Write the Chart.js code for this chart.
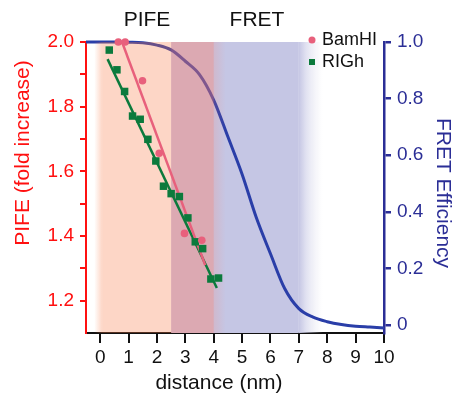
<!DOCTYPE html>
<html>
<head>
<meta charset="utf-8">
<script src="https://cdn.jsdelivr.net/npm/chart.js@4.4.1/dist/chart.umd.min.js"></script>
<style>
  html, body { margin: 0; padding: 0; background: #fff; }
  #wrap { width: 455px; height: 394px; position: relative; }
</style>
</head>
<body>
<div id="wrap"><canvas id="pifeChart"></canvas></div>
<script>
// distance axis ticks (nm)
const distanceTicks = [0, 1, 2, 3, 4, 5, 6, 7, 8, 9, 10];
// left axis ticks, only the even ones get a label
const pifeTicks = [1.2, 1.3, 1.4, 1.5, 1.6, 1.7, 1.8, 1.9, 2.0];
const pifeLabelled = [1.2, 1.4, 1.6, 1.8, 2.0];
const fretTicks = [0, 0.2, 0.4, 0.6, 0.8, 1.0];

// BamHI PIFE measurements
const bamhiDistance = [0.64, 0.88, 1.49, 2.08, 2.97, 3.58];
const bamhiPife = [2.0, 2.0, 1.88, 1.656, 1.408, 1.387];

// RIGh PIFE measurements
const righDistance = [0.32, 0.59, 0.86, 1.14, 1.41, 1.68, 1.96, 2.23, 2.50, 2.79, 3.09, 3.35, 3.61, 3.90, 4.17];
const righPife = [1.975, 1.914, 1.847, 1.771, 1.761, 1.699, 1.632, 1.554, 1.531, 1.522, 1.456, 1.382, 1.361, 1.267, 1.270];

// linear fits (end points)
const bamhiFitDistance = [0.77, 3.7];
const bamhiFitPife = [2.0, 1.31];
const righFitDistance = [0.26, 4.11];
const righFitPife = [1.947, 1.239];

// FRET efficiency curve
const fretDistance = [-0.5, 0, 0.5, 1, 1.5, 2, 2.5, 3, 3.5, 4, 4.5, 5, 5.5, 6, 6.5, 7, 7.5, 8, 8.5, 9, 9.5, 10];
const fretEfficiency = [1.0, 1.0, 1.0, 0.999, 0.997, 0.989, 0.972, 0.932, 0.885, 0.795, 0.665, 0.533, 0.38, 0.252, 0.129, 0.058, 0.028, 0.012, 0.002, -0.004, -0.007, -0.01];

// shaded ranges (nm)
const pifeRange = [0, 4];
const fretRange = [2.5, 7];

const FONT = '"Liberation Sans", Arial, Helvetica, sans-serif';
const RED = '#ff1010';
const NAVY = '#2b2e96';
const PINK = '#e8607c';
const GREEN = '#0b7a3c';
const CURVE = '#2a3ea8';

const toPoints = (xs, ys) => xs.map((x, i) => ({ x: x, y: ys[i] }));

const shading = {
    id: 'shading',
    beforeDatasetsDraw(chart) {
        const { ctx, chartArea: a, scales: { x } } = chart;
        const x0 = x.getPixelForValue(fretRange[0]);
        const x1 = x.getPixelForValue(fretRange[1]);
        ctx.save();
        const g = ctx.createLinearGradient(x1, 0, x1 + 24, 0);
        g.addColorStop(0, 'rgb(197,198,228)');
        g.addColorStop(0.35, 'rgba(210,211,234,0.6)');
        g.addColorStop(1, 'rgba(230,230,240,0)');
        ctx.fillStyle = 'rgb(197,198,228)';
        ctx.fillRect(x0, a.top, x1 - x0, a.bottom - a.top);
        ctx.fillStyle = g;
        ctx.fillRect(x1, a.top, 24, a.bottom - a.top);
        ctx.restore();
    },
    afterDatasetDraw(chart, args) {
        if (args.index !== 4) return;
        const { ctx, chartArea: a, scales: { x } } = chart;
        const p0 = x.getPixelForValue(pifeRange[0]);
        const p1 = x.getPixelForValue(pifeRange[1]);
        const f0 = x.getPixelForValue(fretRange[0]);
        ctx.save();
        // PIFE only part
        const lg = ctx.createLinearGradient(p0 - 6, 0, p0 + 2, 0);
        lg.addColorStop(0, 'rgba(248,118,65,0)');
        lg.addColorStop(1, 'rgba(248,118,65,0.3)');
        ctx.fillStyle = lg;
        ctx.fillRect(p0 - 6, a.top, 8, a.bottom - a.top);
        ctx.fillStyle = 'rgba(248,118,65,0.3)';
        ctx.fillRect(p0 + 2, a.top, f0 - p0 - 2, a.bottom - a.top);
        // overlap with FRET
        ctx.fillStyle = 'rgba(254,126,103,0.4)';
        ctx.fillRect(f0, a.top, p1 - f0, a.bottom - a.top);
        const rg = ctx.createLinearGradient(p1, 0, p1 + 12, 0);
        rg.addColorStop(0, 'rgba(254,126,103,0.18)');
        rg.addColorStop(1, 'rgba(254,126,103,0)');
        ctx.fillStyle = rg;
        ctx.fillRect(p1, a.top, 12, a.bottom - a.top);
        ctx.restore();
    }
};

const labels = {
    id: 'labels',
    afterDraw(chart) {
        const { ctx } = chart;
        ctx.save();
        ctx.font = '21px ' + FONT;
        ctx.textAlign = 'center';
        ctx.textBaseline = 'middle';
        ctx.fillStyle = '#111';
        ctx.fillText('PIFE', 147, 20);
        ctx.fillText('FRET', 257, 20);
        ctx.fillText('distance (nm)', 219, 383);

        ctx.save();
        ctx.translate(23, 153);
        ctx.rotate(-Math.PI / 2);
        ctx.fillStyle = RED;
        ctx.fillText('PIFE (fold increase)', 0, 0);
        ctx.restore();

        ctx.save();
        ctx.translate(443, 193);
        ctx.rotate(Math.PI / 2);
        ctx.fillStyle = NAVY;
        ctx.fillText('FRET Efficiency', 0, 0);
        ctx.restore();

        // legend
        ctx.font = '18px ' + FONT;
        ctx.textAlign = 'left';
        ctx.fillStyle = '#111';
        ctx.fillText('BamHI', 322, 40);
        ctx.fillText('RIGh', 322, 62);
        ctx.fillStyle = PINK;
        ctx.beginPath();
        ctx.arc(312, 40, 3.5, 0, Math.PI * 2);
        ctx.fill();
        ctx.fillStyle = GREEN;
        ctx.fillRect(309, 59, 6, 6);
        ctx.restore();
    }
};

const ctx = document.getElementById('pifeChart').getContext('2d');
new Chart(ctx, {
    type: 'scatter',
    data: {
        datasets: [
            {
                label: 'BamHI',
                data: toPoints(bamhiDistance, bamhiPife),
                yAxisID: 'y',
                pointStyle: 'circle',
                pointRadius: 3.8,
                backgroundColor: PINK,
                borderWidth: 0,
                clip: false,
                order: 1
            },
            {
                label: 'RIGh',
                data: toPoints(righDistance, righPife),
                yAxisID: 'y',
                pointStyle: 'rect',
                pointRadius: 5.3,
                backgroundColor: GREEN,
                borderWidth: 0,
                clip: false,
                order: 1
            },
            {
                type: 'line',
                label: 'BamHI fit',
                data: toPoints(bamhiFitDistance, bamhiFitPife),
                yAxisID: 'y',
                borderColor: PINK,
                borderWidth: 2.5,
                pointRadius: 0,
                order: 2
            },
            {
                type: 'line',
                label: 'RIGh fit',
                data: toPoints(righFitDistance, righFitPife),
                yAxisID: 'y',
                borderColor: GREEN,
                borderWidth: 2.5,
                pointRadius: 0,
                order: 2
            },
            {
                type: 'line',
                label: 'FRET',
                data: toPoints(fretDistance, fretEfficiency),
                yAxisID: 'y2',
                borderColor: CURVE,
                borderWidth: 3,
                pointRadius: 0,
                cubicInterpolationMode: 'monotone',
                clip: false,
                order: 10
            }
        ]
    },
    options: {
        responsive: true,
        maintainAspectRatio: false,
        animation: false,
        layout: { padding: { top: 42, left: 0, right: 0, bottom: 0 } },
        plugins: {
            legend: { display: false },
            tooltip: { enabled: false },
            title: { display: false }
        },
        scales: {
            x: {
                type: 'linear',
                position: 'bottom',
                min: -0.5,
                max: 10,
                afterBuildTicks: s => { s.ticks = distanceTicks.map(v => ({ value: v })); },
                afterFit: s => { s.height = 61; },
                grid: { display: true, drawOnChartArea: false, drawTicks: true, tickLength: 10, color: '#111', lineWidth: 2 },
                border: { display: true, color: '#111', width: 2 },
                ticks: { color: '#111', font: { family: FONT, size: 19 }, padding: 3, maxRotation: 0 }
            },
            y: {
                type: 'linear',
                position: 'left',
                min: 1.1,
                max: 2.0,
                afterBuildTicks: s => { s.ticks = pifeTicks.map(v => ({ value: v })); },
                afterFit: s => { s.width = 86; },
                grid: { display: true, drawOnChartArea: false, drawTicks: true, tickLength: 6, color: RED, lineWidth: 2 },
                border: { display: true, color: RED, width: 2 },
                ticks: {
                    color: RED, font: { family: FONT, size: 19 }, padding: 6, autoSkip: false,
                    callback: v => pifeLabelled.some(t => Math.abs(t - v) < 1e-6) ? v.toFixed(1) : ''
                }
            },
            y2: {
                type: 'linear',
                position: 'right',
                min: -0.028,
                max: 1.0,
                afterBuildTicks: s => { s.ticks = fretTicks.map(v => ({ value: v })); },
                afterFit: s => { s.width = 71; },
                grid: { display: true, drawOnChartArea: false, drawTicks: true, tickLength: 7, color: NAVY, lineWidth: 2.5 },
                border: { display: true, color: NAVY, width: 2.5 },
                ticks: { color: NAVY, font: { family: FONT, size: 19 }, padding: 6, callback: v => v === 0 ? '0' : v.toFixed(1) }
            }
        }
    },
    plugins: [shading, labels]
});
</script>
</body>
</html>
